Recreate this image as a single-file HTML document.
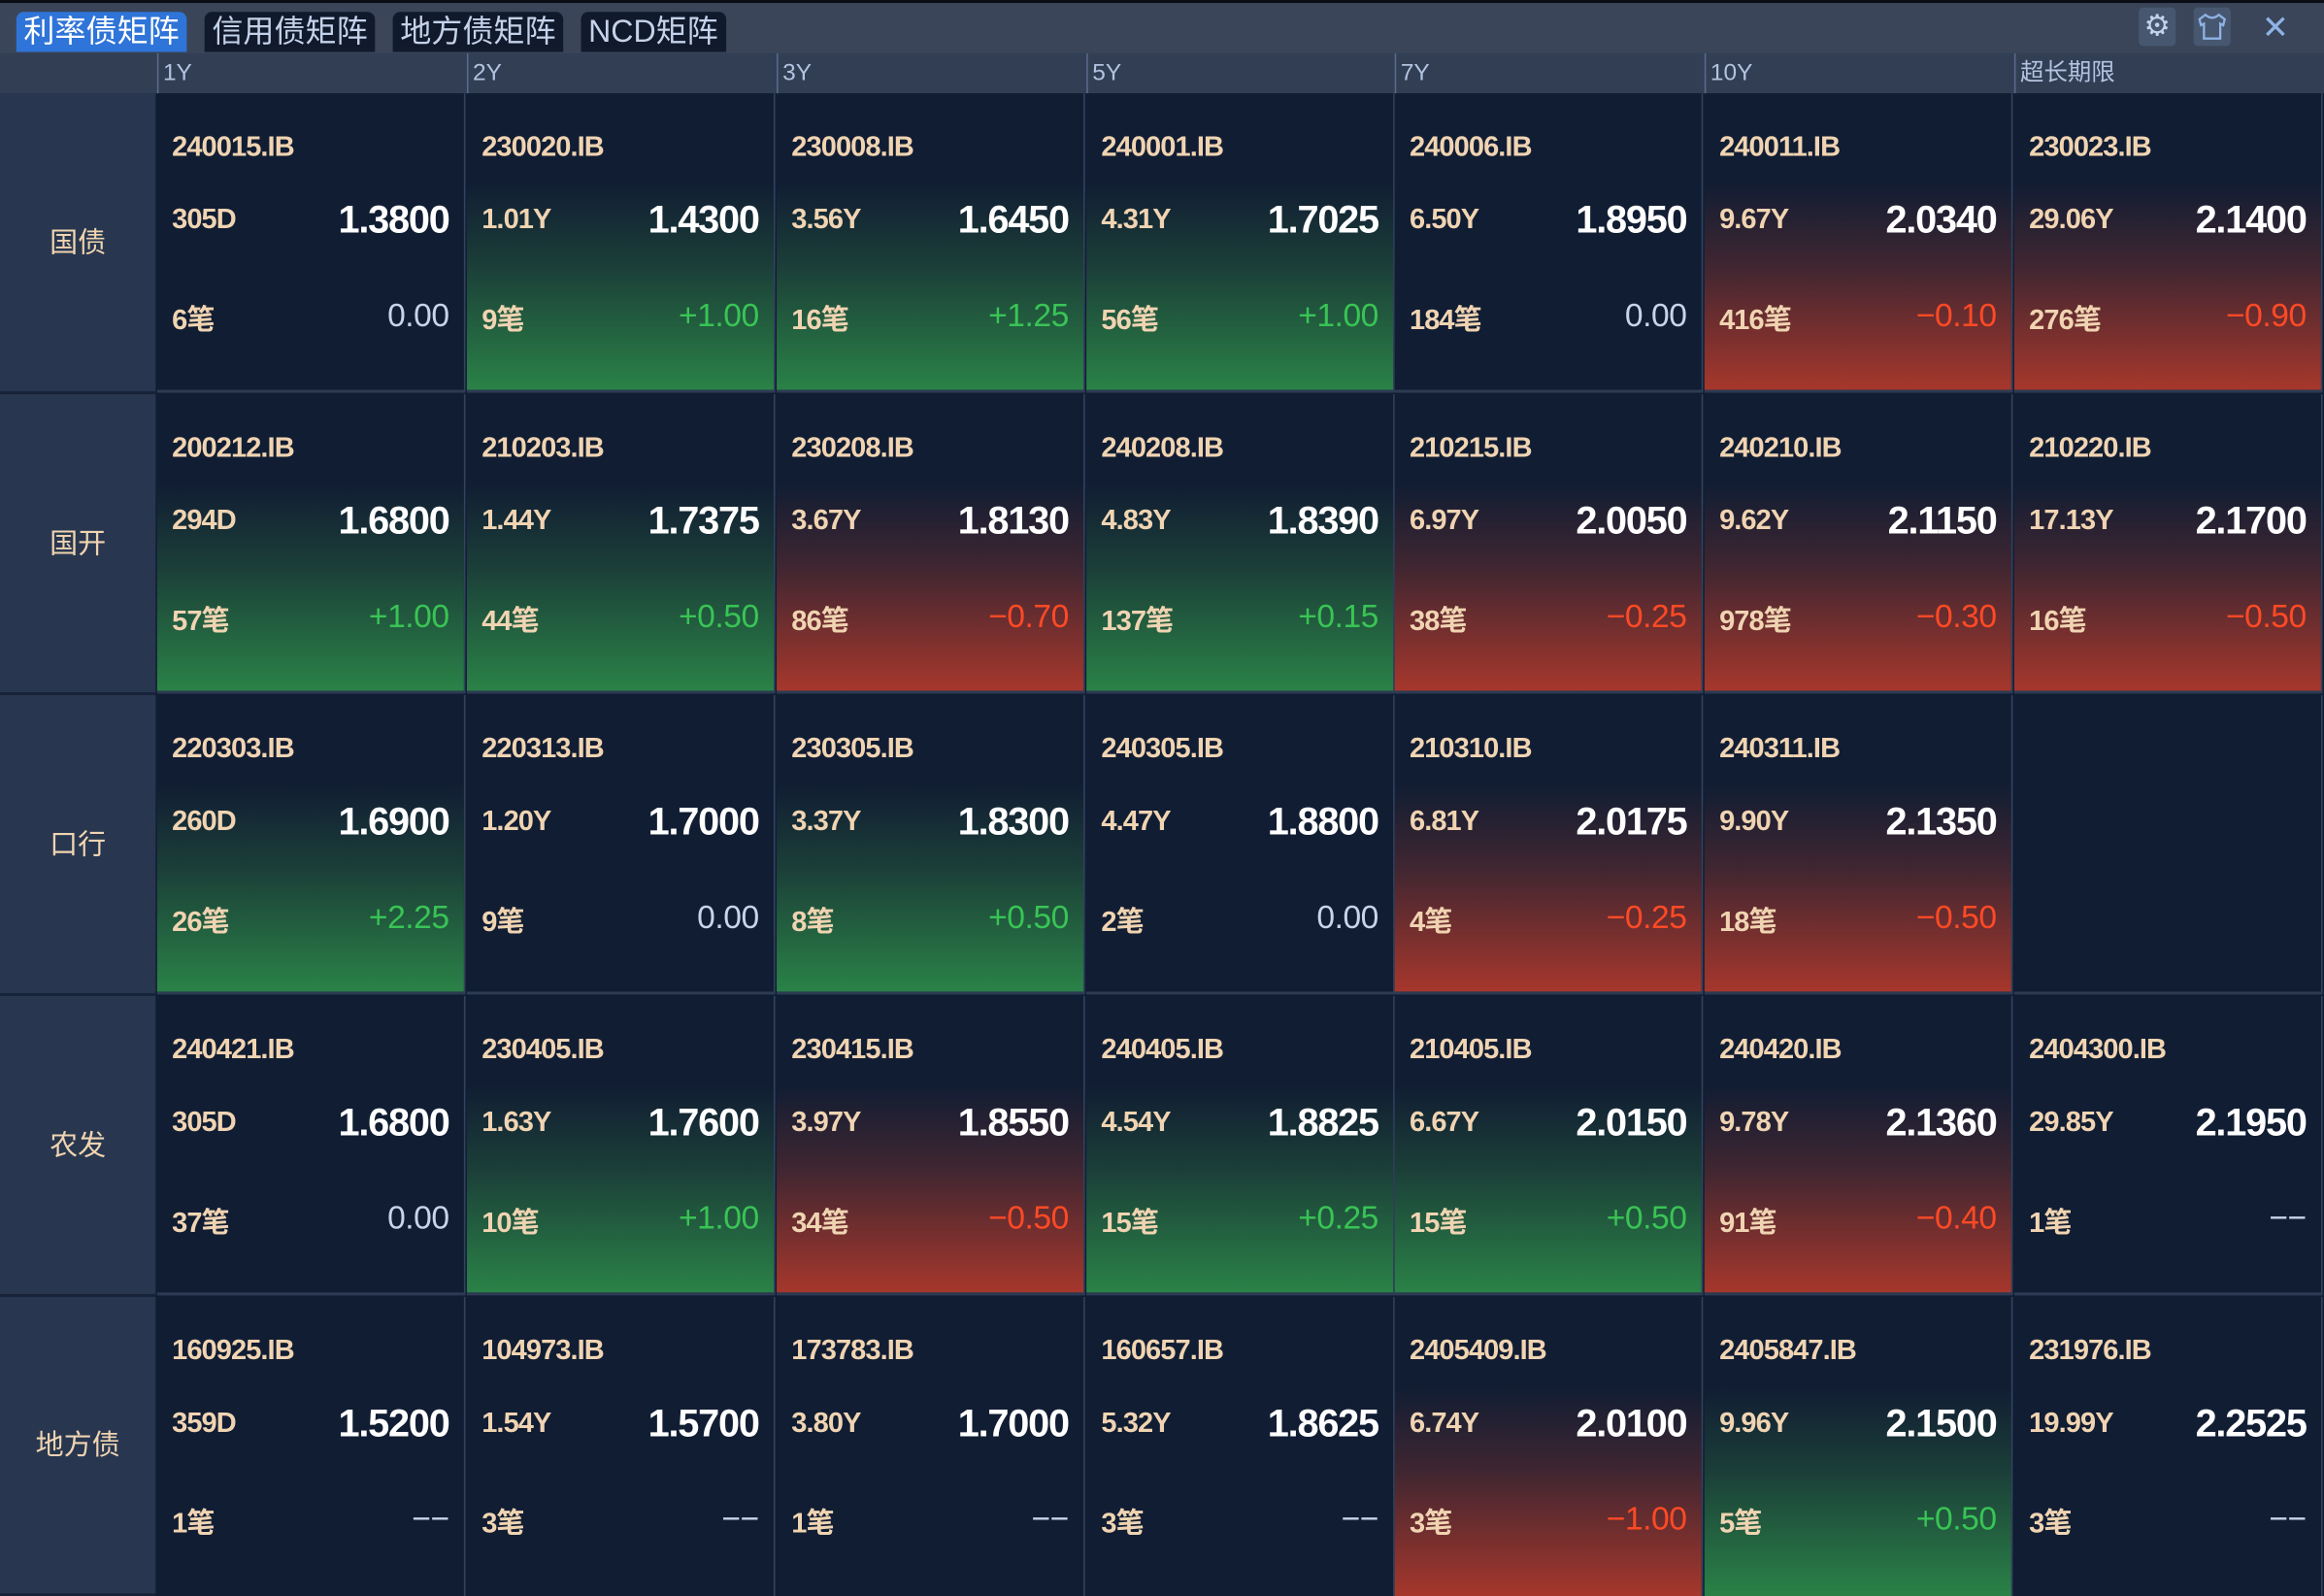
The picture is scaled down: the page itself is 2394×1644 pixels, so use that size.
<!DOCTYPE html>
<html><head><meta charset="utf-8"><style>
html,body{margin:0;padding:0;background:#111d33;overflow:hidden}
#w{width:1568px;height:1077px;transform:scale(1.52679);transform-origin:0 0;position:relative;font-family:"Liberation Sans","Noto Sans CJK SC",sans-serif;background:#111d33}
.top{position:absolute;left:0;top:0;width:1568px;height:36px;background:#3a4559;border-top:2px solid #0a0d14;box-sizing:border-box}
.tab{position:absolute;top:8px;height:27px;border-radius:5px 5px 0 0;background:#101a2c;color:#c5d2ea;font-size:21px;line-height:27px;padding:0 5px;box-sizing:border-box}
.tab.on{background:#2f74d8;color:#fff}
.ib{position:absolute;top:5px;width:25px;height:26px;border-radius:3px;background:#47576f}
.hdr{position:absolute;left:0;top:36px;width:1568px;height:27px;background:#323e54}
.hl{position:absolute;top:36px;height:27px;color:#b3c3df;font-size:16px;line-height:27px;padding-left:3px;border-left:1px solid #5a6c8c;box-sizing:border-box}
.lab{position:absolute;left:0;width:105px;background:#28374f;color:#f0d4b2;font-size:19px;text-align:center;border-bottom:2px solid #18233a;box-sizing:border-box}
.c{position:absolute;width:208px;height:202px;background:#111d33;box-sizing:border-box;border-right:1px solid #33435f;border-bottom:2px solid #2c3a52}
.c.g{background:linear-gradient(#111d33 0%,#111d33 30%,#1b3e38 58%,#2a8247 100%)}
.c.r{background:linear-gradient(#111d33 0%,#111d33 30%,#3f2631 58%,#a6372c 100%)}
.c span{position:absolute;white-space:nowrap}
.a{left:10px;top:26px;font-size:19px;color:#f0d4b2;font-weight:bold;letter-spacing:-0.6px}
.t{left:10px;top:75px;font-size:19px;color:#f0d4b2;font-weight:bold;letter-spacing:-0.6px}
.v{right:10px;top:70px;font-size:26px;color:#fff;font-weight:bold;letter-spacing:-0.8px}
.k{left:10px;top:138px;font-size:19px;color:#f0d4b2;font-weight:bold;letter-spacing:-0.6px}
.d{right:10px;top:137px;font-size:22px;letter-spacing:-0.3px}
.d.n{color:#c8d4ec}.d.p{color:#39c455}.d.m{color:#ff4a25}
</style></head><body><div id="w">
<div class="top"></div>
<div class="tab on" style="left:11px">利率债矩阵</div>
<div class="tab" style="left:138px">信用债矩阵</div>
<div class="tab" style="left:265px">地方债矩阵</div>
<div class="tab" style="left:392px">NCD矩阵</div>
<div class="ib" style="left:1443px;color:#c5d2ea;font-size:20px;text-align:center;line-height:26px">⚙</div>
<div class="ib" style="left:1480px"><svg width="25" height="26" viewBox="0 0 25 26"><path d="M8 5 L4 8 L5 12 L7 11 L7 21 L18 21 L18 11 L20 12 L21 8 L17 5 Q12.5 9 8 5Z" fill="none" stroke="#8fb2e6" stroke-width="1.5"/></svg></div>
<div style="position:absolute;left:1526px;top:6px;color:#8fb2e6;font-size:22px">✕</div>
<div class="hdr"></div>
<div class="hl" style="left:106px">1Y</div><div class="hl" style="left:315px">2Y</div><div class="hl" style="left:524px">3Y</div><div class="hl" style="left:733px">5Y</div><div class="hl" style="left:941px">7Y</div><div class="hl" style="left:1150px">10Y</div><div class="hl" style="left:1359px">超长期限</div>

<div class="lab" style="top:63px;height:203px;line-height:203px">国债</div>
<div class="lab" style="top:266px;height:203px;line-height:203px">国开</div>
<div class="lab" style="top:469px;height:203px;line-height:203px">口行</div>
<div class="lab" style="top:672px;height:203px;line-height:203px">农发</div>
<div class="lab" style="top:875px;height:202px;line-height:202px">地方债</div>

<div class="c" style="left:106px;top:63px"><span class="a">240015.IB</span><span class="t">305D</span><span class="v">1.3800</span><span class="k">6笔</span><span class="d n">0.00</span></div>
<div class="c g" style="left:315px;top:63px"><span class="a">230020.IB</span><span class="t">1.01Y</span><span class="v">1.4300</span><span class="k">9笔</span><span class="d p">+1.00</span></div>
<div class="c g" style="left:524px;top:63px"><span class="a">230008.IB</span><span class="t">3.56Y</span><span class="v">1.6450</span><span class="k">16笔</span><span class="d p">+1.25</span></div>
<div class="c g" style="left:733px;top:63px"><span class="a">240001.IB</span><span class="t">4.31Y</span><span class="v">1.7025</span><span class="k">56笔</span><span class="d p">+1.00</span></div>
<div class="c" style="left:941px;top:63px"><span class="a">240006.IB</span><span class="t">6.50Y</span><span class="v">1.8950</span><span class="k">184笔</span><span class="d n">0.00</span></div>
<div class="c r" style="left:1150px;top:63px"><span class="a">240011.IB</span><span class="t">9.67Y</span><span class="v">2.0340</span><span class="k">416笔</span><span class="d m">−0.10</span></div>
<div class="c r" style="left:1359px;top:63px"><span class="a">230023.IB</span><span class="t">29.06Y</span><span class="v">2.1400</span><span class="k">276笔</span><span class="d m">−0.90</span></div>

<div class="c g" style="left:106px;top:266px"><span class="a">200212.IB</span><span class="t">294D</span><span class="v">1.6800</span><span class="k">57笔</span><span class="d p">+1.00</span></div>
<div class="c g" style="left:315px;top:266px"><span class="a">210203.IB</span><span class="t">1.44Y</span><span class="v">1.7375</span><span class="k">44笔</span><span class="d p">+0.50</span></div>
<div class="c r" style="left:524px;top:266px"><span class="a">230208.IB</span><span class="t">3.67Y</span><span class="v">1.8130</span><span class="k">86笔</span><span class="d m">−0.70</span></div>
<div class="c g" style="left:733px;top:266px"><span class="a">240208.IB</span><span class="t">4.83Y</span><span class="v">1.8390</span><span class="k">137笔</span><span class="d p">+0.15</span></div>
<div class="c r" style="left:941px;top:266px"><span class="a">210215.IB</span><span class="t">6.97Y</span><span class="v">2.0050</span><span class="k">38笔</span><span class="d m">−0.25</span></div>
<div class="c r" style="left:1150px;top:266px"><span class="a">240210.IB</span><span class="t">9.62Y</span><span class="v">2.1150</span><span class="k">978笔</span><span class="d m">−0.30</span></div>
<div class="c r" style="left:1359px;top:266px"><span class="a">210220.IB</span><span class="t">17.13Y</span><span class="v">2.1700</span><span class="k">16笔</span><span class="d m">−0.50</span></div>

<div class="c g" style="left:106px;top:469px"><span class="a">220303.IB</span><span class="t">260D</span><span class="v">1.6900</span><span class="k">26笔</span><span class="d p">+2.25</span></div>
<div class="c" style="left:315px;top:469px"><span class="a">220313.IB</span><span class="t">1.20Y</span><span class="v">1.7000</span><span class="k">9笔</span><span class="d n">0.00</span></div>
<div class="c g" style="left:524px;top:469px"><span class="a">230305.IB</span><span class="t">3.37Y</span><span class="v">1.8300</span><span class="k">8笔</span><span class="d p">+0.50</span></div>
<div class="c" style="left:733px;top:469px"><span class="a">240305.IB</span><span class="t">4.47Y</span><span class="v">1.8800</span><span class="k">2笔</span><span class="d n">0.00</span></div>
<div class="c r" style="left:941px;top:469px"><span class="a">210310.IB</span><span class="t">6.81Y</span><span class="v">2.0175</span><span class="k">4笔</span><span class="d m">−0.25</span></div>
<div class="c r" style="left:1150px;top:469px"><span class="a">240311.IB</span><span class="t">9.90Y</span><span class="v">2.1350</span><span class="k">18笔</span><span class="d m">−0.50</span></div>
<div class="c" style="left:1359px;top:469px"></div>

<div class="c" style="left:106px;top:672px"><span class="a">240421.IB</span><span class="t">305D</span><span class="v">1.6800</span><span class="k">37笔</span><span class="d n">0.00</span></div>
<div class="c g" style="left:315px;top:672px"><span class="a">230405.IB</span><span class="t">1.63Y</span><span class="v">1.7600</span><span class="k">10笔</span><span class="d p">+1.00</span></div>
<div class="c r" style="left:524px;top:672px"><span class="a">230415.IB</span><span class="t">3.97Y</span><span class="v">1.8550</span><span class="k">34笔</span><span class="d m">−0.50</span></div>
<div class="c g" style="left:733px;top:672px"><span class="a">240405.IB</span><span class="t">4.54Y</span><span class="v">1.8825</span><span class="k">15笔</span><span class="d p">+0.25</span></div>
<div class="c g" style="left:941px;top:672px"><span class="a">210405.IB</span><span class="t">6.67Y</span><span class="v">2.0150</span><span class="k">15笔</span><span class="d p">+0.50</span></div>
<div class="c r" style="left:1150px;top:672px"><span class="a">240420.IB</span><span class="t">9.78Y</span><span class="v">2.1360</span><span class="k">91笔</span><span class="d m">−0.40</span></div>
<div class="c" style="left:1359px;top:672px"><span class="a">2404300.IB</span><span class="t">29.85Y</span><span class="v">2.1950</span><span class="k">1笔</span><span class="d n">−−</span></div>

<div class="c" style="left:106px;top:875px;border-bottom:0"><span class="a">160925.IB</span><span class="t">359D</span><span class="v">1.5200</span><span class="k">1笔</span><span class="d n">−−</span></div>
<div class="c" style="left:315px;top:875px;border-bottom:0"><span class="a">104973.IB</span><span class="t">1.54Y</span><span class="v">1.5700</span><span class="k">3笔</span><span class="d n">−−</span></div>
<div class="c" style="left:524px;top:875px;border-bottom:0"><span class="a">173783.IB</span><span class="t">3.80Y</span><span class="v">1.7000</span><span class="k">1笔</span><span class="d n">−−</span></div>
<div class="c" style="left:733px;top:875px;border-bottom:0"><span class="a">160657.IB</span><span class="t">5.32Y</span><span class="v">1.8625</span><span class="k">3笔</span><span class="d n">−−</span></div>
<div class="c r" style="left:941px;top:875px;border-bottom:0"><span class="a">2405409.IB</span><span class="t">6.74Y</span><span class="v">2.0100</span><span class="k">3笔</span><span class="d m">−1.00</span></div>
<div class="c g" style="left:1150px;top:875px;border-bottom:0"><span class="a">2405847.IB</span><span class="t">9.96Y</span><span class="v">2.1500</span><span class="k">5笔</span><span class="d p">+0.50</span></div>
<div class="c" style="left:1359px;top:875px;border-bottom:0"><span class="a">231976.IB</span><span class="t">19.99Y</span><span class="v">2.2525</span><span class="k">3笔</span><span class="d n">−−</span></div>
</div></body></html>
